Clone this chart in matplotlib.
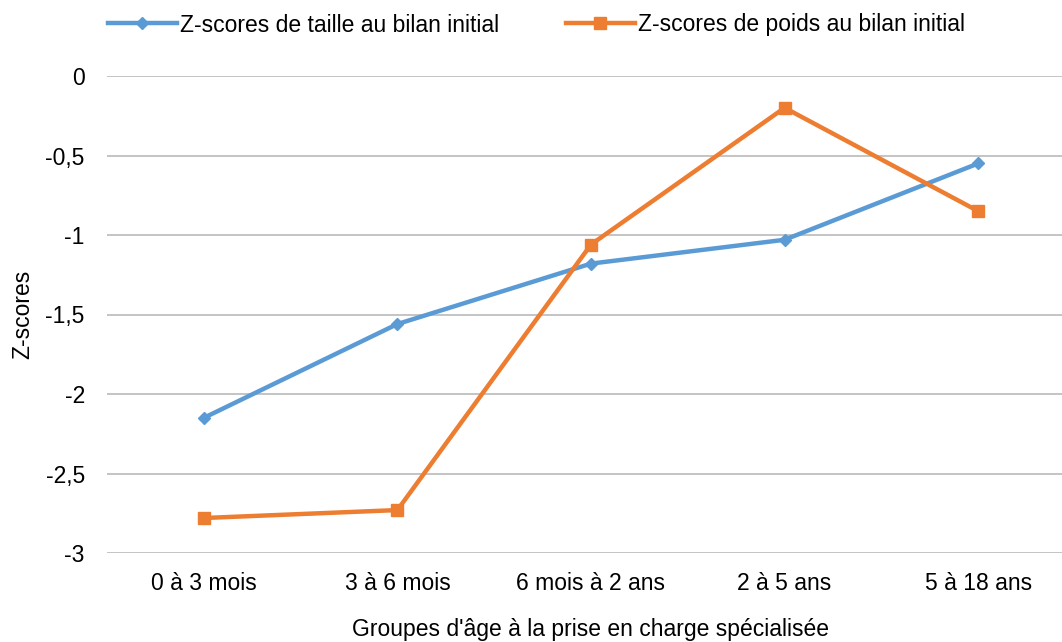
import matplotlib.pyplot as plt

plt.rcParams['font.family'] = ['Liberation Sans', 'DejaVu Sans']

groupes = ['0 à 3 mois', '3 à 6 mois', '6 mois à 2 ans', '2 à 5 ans', '5 à 18 ans']
z_taille = [-2.15, -1.56, -1.18, -1.03, -0.55]
z_poids = [-2.78, -2.73, -1.06, -0.20, -0.85]
yticks = [0, -0.5, -1, -1.5, -2, -2.5, -3]
ytick_labels = ['0', '-0,5', '-1', '-1,5', '-2', '-2,5', '-3']

fs = 16.5

fig = plt.figure(figsize=(10.62, 6.42), dpi=100)
ax = fig.add_axes([107 / 1062, 1 - 553 / 642, 968 / 1062, 477 / 642])

x = range(len(groupes))
ax.plot(x, z_taille, color='#5B9BD5', lw=3.2, marker='D', ms=6,
        label='Z-scores de taille au bilan initial')
ax.plot(x, z_poids, color='#ED7D31', lw=3.2, marker='s', ms=8,
        label='Z-scores de poids au bilan initial')

ax.set_xlim(-0.5, 4.5)
ax.set_ylim(-3, 0)
ax.set_yticks(yticks)
ax.set_yticklabels(ytick_labels)
ax.set_xticks(list(x))
ax.set_xticklabels(groupes)
ax.grid(axis='y', color='#BFBFBF', lw=1.3)
ax.set_axisbelow(True)
for s in ax.spines.values():
    s.set_visible(False)
ax.tick_params(length=0, labelsize=fs)
ax.tick_params(axis='x', pad=14)
ax.tick_params(axis='y', pad=16)

ax.set_ylabel('Z-scores', fontsize=fs, labelpad=8)
ax.set_xlabel("Groupes d'âge à la prise en charge spécialisée", fontsize=fs, labelpad=16)

fig.legend(loc='center left', bbox_to_anchor=(108 / 1062, 1 - 25 / 642), ncol=2,
           frameon=False, fontsize=fs, handlelength=3.0, handletextpad=0.15,
           columnspacing=2.9, borderaxespad=0, borderpad=0)

fig.savefig('out.png', dpi=100)
